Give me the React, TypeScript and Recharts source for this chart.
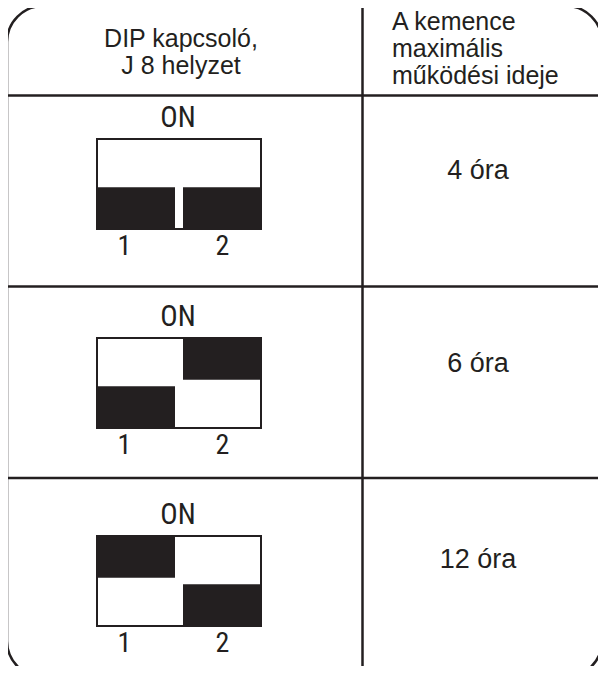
import { BarChart, Bar, XAxis, YAxis } from "recharts";

// DIP switch J8 settings -> max kiln run time
const HOURS = ["4 óra", "6 óra", "12 óra"];
const SWITCH_1 = ["OFF", "OFF", "ON"];
const SWITCH_2 = ["OFF", "ON", "OFF"];
const SWITCH_LABELS = ["1", "2"];
const HEADER_LEFT = ["DIP kapcsoló,", "J 8 helyzet"];
const HEADER_RIGHT = ["A kemence", "maximális", "működési ideje"];

// lever ranges on the switch body scale (0 = bottom, 2.15 = top)
const OFF_RANGE = [0, 1];
const ON_RANGE = [1.15, 2.15];
const BODY_DOMAIN = [0, 2.15];

const INK = "#231f20";
const SANS = "'Liberation Sans', Arial, sans-serif";
const NARROW = "'Liberation Sans Narrow', 'Arial Narrow', 'Roboto Condensed', Roboto, sans-serif";

const ROW_LINES = [95.5, 286.5, 478];
const BOX_TOP = [138, 337, 535];
const HOURS_BASELINE = [179, 372, 568];
const BOX_LEFT = 96;
const BOX_W = 166;
const BOX_H = 92;
const TICK_NUDGE = [-11, 0];

function SwitchTick({ x, y, payload, index }: any) {
  return (
    <text
      x={x + (TICK_NUDGE[index] ?? 0)}
      y={y}
      dy="0.71em"
      textAnchor="middle"
      fontFamily={NARROW}
      fontSize={28}
      fill={INK}
    >
      {payload.value}
    </text>
  );
}

function DipSwitch({ row }: { row: number }) {
  const states = [SWITCH_1[row], SWITCH_2[row]];
  const data = SWITCH_LABELS.map((label, i) => ({
    label,
    lever: states[i] === "ON" ? ON_RANGE : OFF_RANGE,
  }));
  const top = BOX_TOP[row];
  return (
    <>
      <div style={{ position: "absolute", left: BOX_LEFT - 4, top }}>
        <BarChart
          width={BOX_W + 8}
          height={BOX_H + 36}
          data={data}
          margin={{ top: 0, right: 0, bottom: 0, left: 0 }}
          barCategoryGap={4}
        >
          <XAxis
            dataKey="label"
            height={36}
            axisLine={false}
            tickLine={false}
            tickSize={5}
            tickMargin={0}
            interval={0}
            tick={<SwitchTick />}
          />
          <YAxis type="number" domain={BODY_DOMAIN} hide />
          <Bar dataKey="lever" fill={INK} isAnimationActive={false} />
        </BarChart>
      </div>
      <div
        style={{
          position: "absolute",
          left: BOX_LEFT,
          top,
          width: BOX_W,
          height: BOX_H,
          boxSizing: "border-box",
          border: `2.5px solid ${INK}`,
          pointerEvents: "none",
        }}
      />
    </>
  );
}

export default function App() {
  return (
    <div
      style={{
        position: "relative",
        width: 606,
        height: 674,
        margin: -8,
        background: "#fff",
        overflow: "hidden",
      }}
    >
      <svg width={606} height={674} style={{ position: "absolute", left: 0, top: 0 }}>
        <rect x={7} y={6} width={595} height={671} rx={36} ry={36} fill="none" stroke={INK} strokeWidth={2.5} />
        <line x1={362.5} y1={6} x2={362.5} y2={677} stroke={INK} strokeWidth={2.5} />
        {ROW_LINES.map((y) => (
          <line key={y} x1={7} y1={y} x2={602} y2={y} stroke={INK} strokeWidth={2.5} />
        ))}
        {HEADER_LEFT.map((t, i) => (
          <text key={t} x={181} y={47 + i * 27} textAnchor="middle" fontFamily={SANS} fontSize={25} fill={INK}>
            {t}
          </text>
        ))}
        {HEADER_RIGHT.map((t, i) => (
          <text key={t} x={392} y={30 + i * 27} fontFamily={SANS} fontSize={25} fill={INK}>
            {t}
          </text>
        ))}
        {HOURS.map((t, i) => (
          <text key={t} x={478} y={HOURS_BASELINE[i]} textAnchor="middle" fontFamily={SANS} fontSize={27} fill={INK}>
            {t}
          </text>
        ))}
        {BOX_TOP.map((top) => (
          <text key={top} x={178} y={top - 11} textAnchor="middle" fontFamily={NARROW} fontSize={29} fill={INK}>
            ON
          </text>
        ))}
      </svg>
      {HOURS.map((_, row) => (
        <DipSwitch key={row} row={row} />
      ))}
    </div>
  );
}
